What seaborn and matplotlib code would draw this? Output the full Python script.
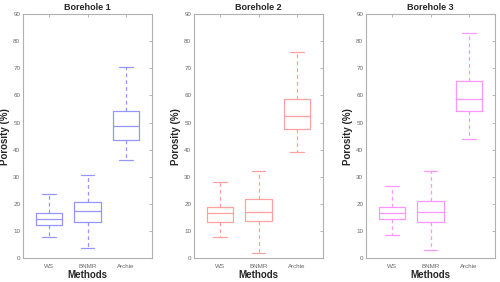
import numpy as np
import pandas as pd
import seaborn as sns
import matplotlib
matplotlib.use("Agg")
import matplotlib.pyplot as plt

methods = ["WS", "BNMR", "Archie"]
boreholes = ["Borehole 1", "Borehole 2", "Borehole 3"]
colors = ["#9595ff", "#ffa0a0", "#ff95ff"]

# five-number summaries: min, q1, median, q3, max
bh1 = {"WS": [7.7, 12.1, 14.3, 16.7, 23.5],
       "BNMR": [3.6, 13.2, 17.2, 20.5, 30.5],
       "Archie": [36.3, 43.4, 48.6, 54.1, 70.3]}
bh2 = {"WS": [7.6, 13.3, 16.5, 19.0, 27.9],
       "BNMR": [2.0, 13.8, 17.1, 21.6, 32.2],
       "Archie": [39.2, 47.6, 52.5, 58.8, 75.9]}
bh3 = {"WS": [8.4, 14.3, 16.5, 18.9, 26.4],
       "BNMR": [2.8, 13.2, 16.8, 20.9, 32.2],
       "Archie": [44.1, 54.1, 58.5, 65.5, 82.9]}
summaries = [bh1, bh2, bh3]

sns.set_theme(style="white")
plt.rcParams['font.family'] = ['Liberation Sans', 'DejaVu Sans']

fig = plt.figure(figsize=(5, 2.82), dpi=100)
lefts = [0.046, 0.388, 0.732]

for i in range(3):
    ax = fig.add_axes([lefts[i], 0.085, 0.258, 0.865])
    rows = []
    for m in methods:
        for v in summaries[i][m]:
            rows.append({"Methods": m, "Porosity": v})
    df = pd.DataFrame(rows)
    c = colors[i]
    sns.boxplot(data=df, x="Methods", y="Porosity", order=methods, ax=ax,
                fill=False, color=c, linecolor=c, width=0.7, whis=np.inf,
                linewidth=0.9,
                whiskerprops=dict(linestyle=(0, (3, 2.5)), color=c),
                capprops=dict(color=c), medianprops=dict(color=c),
                boxprops=dict(color=c), showfliers=False)
    ax.set_ylim(0, 90)
    ax.set_xlim(-0.675, 2.675)
    ax.set_yticks(range(0, 91, 10))
    ax.tick_params(axis='both', direction='in', length=2, width=0.5,
                   labelsize=4.5, labelcolor='#666666', color='#999999',
                   top=True, right=True, pad=2)
    ax.tick_params(axis='x', pad=4)
    for s in ax.spines.values():
        s.set_color('#b0b0b0')
        s.set_linewidth(0.8)
    ax.set_title(boreholes[i], fontsize=6.5, fontweight='bold', pad=3)
    ax.set_xlabel("Methods", fontsize=7, fontweight='bold', labelpad=1)
    ax.set_ylabel("Porosity (%)", fontsize=7, fontweight='bold', labelpad=2)

fig.savefig("out.png", dpi=100)
